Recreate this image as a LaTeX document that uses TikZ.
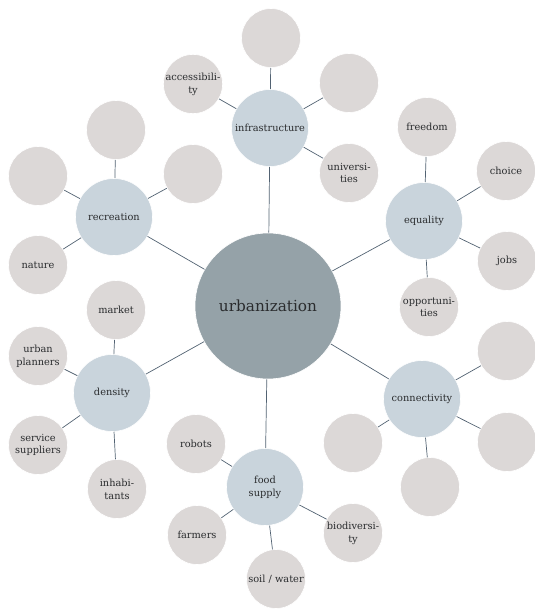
\documentclass[tikz,border=0pt]{standalone}
\usepackage{fontspec}
\setmainfont{DejaVu Serif}
\usepackage{tikz}
\usepackage{xcolor}
\usetikzlibrary{positioning}
\definecolor{darktext}{HTML}{2A2C2E}
\definecolor{hubfill}{HTML}{95A2A8}
\definecolor{topicfill}{HTML}{C9D4DC}
\definecolor{leaffill}{HTML}{DCD8D7}
\definecolor{linkcol}{HTML}{526272}

\begin{document}
\begin{tikzpicture}[x=1pt, y=-1pt,
            hub/.style={circle, fill=hubfill, draw=white, line width=0.6pt, minimum size=146pt, inner sep=0pt, text=darktext, font=\fontsize{15.3}{18}\selectfont, align=center},
            topic/.style={circle, fill=topicfill, draw=white, line width=0.6pt, minimum size=77pt, inner sep=0pt, text=darktext, font=\fontsize{9.8}{12.8}\selectfont, align=center},
            leaf/.style={circle, fill=leaffill, draw=white, line width=0.6pt, minimum size=59pt, inner sep=0pt, text=darktext, font=\fontsize{9.8}{12.8}\selectfont, align=center},
            link/.style={linkcol, line width=0.7pt}
        ]
            \useasboundingbox (0,0) rectangle (535,610);
            % centre
            \node[hub] (urb) at (268,306) {urbanization};
            % topics
            \node[topic] (infra) at (270,128) {infrastructure};
            \node[topic] (equal) at (424,221) {equality};
            \node[topic] (conn) at (422,399) {connectivity};
            \node[topic] (food) at (265,487) {food\\supply};
            \node[topic] (dens) at (112,393) {density};
            \node[topic] (recr) at (114,217) {recreation};
            % leaves of infrastructure
            \node[leaf] (access) at (193,84) {accessibili-\\ty};
            \node[leaf] (infraA) at (271,38) {};
            \node[leaf] (infraB) at (349,83) {};
            \node[leaf] (univ) at (349,173) {universi-\\ties};
            % leaves of equality
            \node[leaf] (freedom) at (427,127) {freedom};
            \node[leaf] (choice) at (506,171) {choice};
            \node[leaf] (jobs) at (507,261) {jobs};
            \node[leaf] (oppo) at (429,307) {opportuni-\\ties};
            % leaves of connectivity
            \node[leaf] (connA) at (507,351) {};
            \node[leaf] (connB) at (507,442) {};
            \node[leaf] (connC) at (430,487) {};
            \node[leaf] (connD) at (353,443) {};
            % leaves of food supply
            \node[leaf] (robots) at (196,444) {robots};
            \node[leaf] (farmers) at (197,535) {farmers};
            \node[leaf] (soil) at (276,579) {soil / water};
            \node[leaf] (biodiv) at (353,533) {biodiversi-\\ty};
            % leaves of density
            \node[leaf] (market) at (116,310) {market};
            \node[leaf] (planners) at (38,356) {urban\\planners};
            \node[leaf] (suppliers) at (38,445) {service\\suppliers};
            \node[leaf] (inhab) at (117,489) {inhabi-\\tants};
            % leaves of recreation
            \node[leaf] (recrA) at (116,130) {};
            \node[leaf] (recrB) at (38,176) {};
            \node[leaf] (nature) at (38,265) {nature};
            \node[leaf] (recrC) at (193,174) {};
            % links
            \draw[link] (urb) -- (infra) (urb) -- (equal) (urb) -- (conn)
                (urb) -- (food) (urb) -- (dens) (urb) -- (recr);
            \draw[link] (infra) -- (access) (infra) -- (infraA) (infra) -- (infraB) (infra) -- (univ);
            \draw[link] (equal) -- (freedom) (equal) -- (choice) (equal) -- (jobs) (equal) -- (oppo);
            \draw[link] (conn) -- (connA) (conn) -- (connB) (conn) -- (connC) (conn) -- (connD);
            \draw[link] (food) -- (robots) (food) -- (farmers) (food) -- (soil) (food) -- (biodiv);
            \draw[link] (dens) -- (market) (dens) -- (planners) (dens) -- (suppliers) (dens) -- (inhab);
            \draw[link] (recr) -- (recrA) (recr) -- (recrB) (recr) -- (nature) (recr) -- (recrC);
        \end{tikzpicture}
\end{document}
